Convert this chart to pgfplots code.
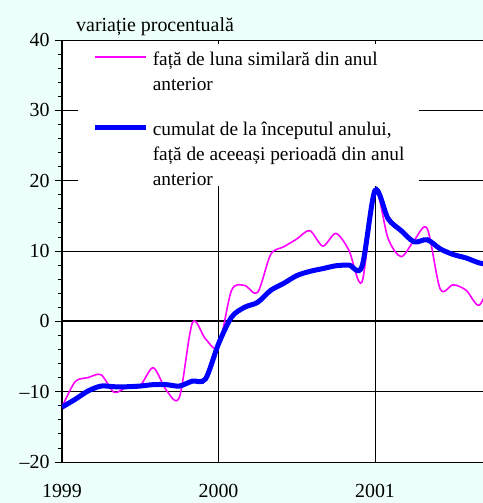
\documentclass[border=0pt]{standalone}
\usepackage{fontspec}
\setmainfont{Liberation Serif}
\usepackage{pgfplots}
\pgfplotsset{compat=1.18}
\definecolor{bgc}{RGB}{236,255,250}
\definecolor{mag}{RGB}{255,0,255}
\definecolor{blu}{RGB}{0,0,255}
\begin{document}
\begin{tikzpicture}
\fill[bgc] (-62bp,-41bp) rectangle (421bp,462bp);
\begin{axis}[
  at={(0,0)}, anchor=south west,
  scale only axis, width=421bp, height=422bp,
  xmin=0, xmax=32.28, ymin=-20, ymax=40,
  axis background/.style={fill=white},
  axis y line*=left, axis x line*=box,
  x axis line style={line width=0.8pt},
  y axis line style={line width=1.2pt},
  xtick={0,12,24}, xticklabels={1999,2000,2001},
  ytick={-20,-10,0,10,20,30,40},
  yticklabels={\textendash20,\textendash10,0,10,20,30,40},
  minor y tick num=4,
  ytick align=outside,
  major tick length=7bp, minor tick length=4bp,
  xtick style={draw=none},
  ytick style={line width=0.8pt, black},
  grid=major,
  major grid style={black, line width=0.6pt},
  extra y ticks={0}, extra y tick labels={},
  extra y tick style={grid=major, major grid style={black, line width=1.8pt}, tick style={draw=none}},
  tick label style={font=\fontsize{20}{24}\selectfont},
  xticklabel style={yshift=-19bp},
  yticklabel style={xshift=-2bp},
  title={variație procentuală},
  title style={at={(axis description cs:0,1)}, anchor=base west, xshift=14bp, yshift=3bp, inner sep=0pt, font=\fontsize{20}{24}\selectfont},
  legend style={at={(axis description cs:0.037,1)}, anchor=north west, yshift=-4bp,
    draw=none, fill=white, inner xsep=15bp, inner ysep=1bp,
    font=\fontsize{19.4}{24}\selectfont, column sep=4bp, row sep=0bp,
    nodes={inner sep=0pt, text height=20bp, text depth=5bp}},
  legend cell align=left,
  legend image code/.code={\draw[#1, line cap=butt] (0bp,0.5bp) -- (51bp,0.5bp);},
  clip=true,
]
\addplot[mag, line width=1.6bp, smooth, tension=0.5] coordinates {
(0,-12.2)(1,-8.6)(2,-8.0)(3,-7.6)(4,-10.1)(5,-9.3)(6,-9.1)(7,-6.6)(8,-9.8)(9,-10.8)
(10,-0.2)(11,-2.5)(12,-3.6)(13,4.4)(14,5.1)(15,4.1)(16,9.5)(17,10.6)(18,11.7)(19,12.9)
(20,10.7)(21,12.5)(22,10.1)(23,5.6)(24,18.6)(25,11.8)(26,9.2)(27,11.5)(28,13.2)(29,4.6)
(30,5.2)(31,4.4)(32,2.3)(33,6.5)
};
\addlegendentry{față de luna similară din anul}
\addlegendimage{empty legend}
\addlegendentry{anterior}
\addlegendimage{empty legend}
\addlegendentry[text height=15bp, text depth=5bp]{}
\addplot[blu, line width=5bp, smooth, tension=0.5] coordinates {
(0,-12.2)(1,-11.1)(2,-9.9)(3,-9.2)(4,-9.3)(5,-9.3)(6,-9.2)(7,-9.0)(8,-9.0)(9,-9.2)
(10,-8.5)(11,-8.2)(12,-3.2)(13,0.6)(14,2.0)(15,2.7)(16,4.4)(17,5.4)(18,6.5)(19,7.1)
(20,7.5)(21,7.9)(22,8.0)(23,7.8)(24,18.6)(25,14.6)(26,12.9)(27,11.3)(28,11.6)(29,10.3)
(30,9.5)(31,9.0)(32,8.3)(33,8.0)
};
\addlegendentry{cumulat de la începutul anului,}
\addlegendimage{empty legend}
\addlegendentry{față de aceeași perioadă din anul}
\addlegendimage{empty legend}
\addlegendentry[text height=20bp, text depth=0bp]{anterior}
\end{axis}
\pgfresetboundingbox
\useasboundingbox (-62bp,-41bp) rectangle (421bp,462bp);
\end{tikzpicture}
\end{document}
